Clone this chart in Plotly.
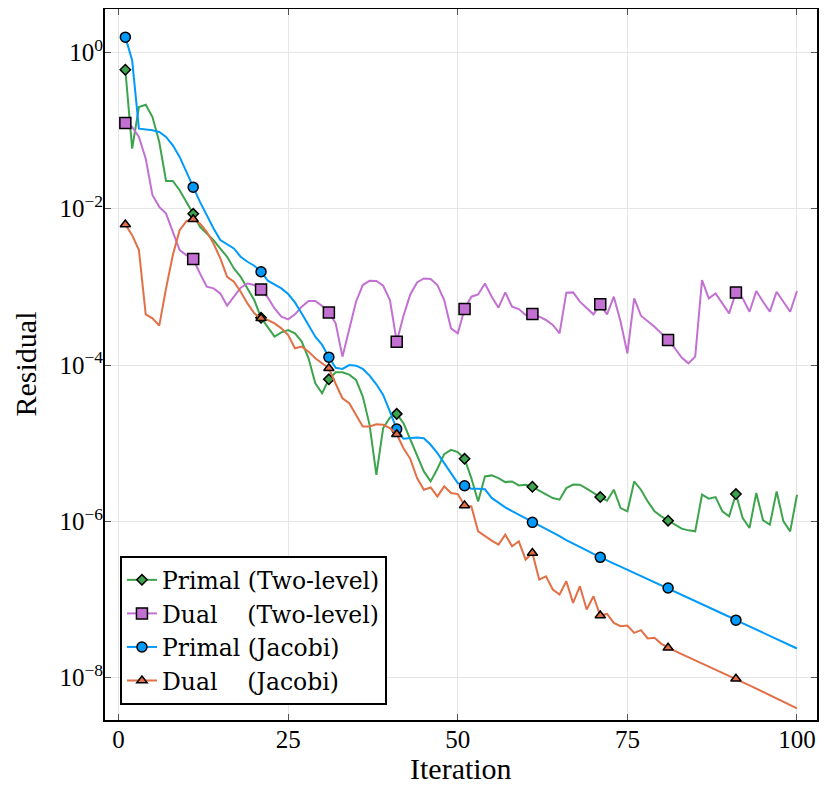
import plotly.graph_objects as go

# Iteration numbers
iterations = list(range(1, 101))

# log10 of the residual per iteration
primal_two_level = [
    -0.223, -1.232, -0.700, -0.670, -0.828, -1.147, -1.645, -1.645, -1.764, -1.913,
    -2.066, -2.232, -2.318, -2.402, -2.510, -2.616, -2.765, -2.871, -3.020, -3.169,
    -3.395, -3.510, -3.637, -3.582, -3.552, -3.595, -3.700, -3.914, -4.234, -4.361,
    -4.183, -4.093, -4.093, -4.123, -4.190, -4.404, -4.765, -5.404, -4.808, -4.672,
    -4.625, -4.745, -4.957, -5.170, -5.361, -5.489, -5.327, -5.140, -5.085, -5.115,
    -5.200, -5.447, -5.745, -5.425, -5.412, -5.447, -5.498, -5.489, -5.540, -5.531,
    -5.557, -5.608, -5.659, -5.702, -5.723, -5.575, -5.530, -5.531, -5.582, -5.638,
    -5.689, -5.736, -5.595, -5.830, -5.872, -5.489, -5.595, -5.745, -5.872, -5.936,
    -5.991, -6.042, -6.093, -6.115, -6.128, -5.659, -5.710, -5.689, -5.872, -5.936,
    -5.651, -5.958, -6.085, -5.638, -5.987, -6.042, -5.617, -6.000, -6.128, -5.659,
]

dual_two_level = [
    -0.904, -0.955, -1.083, -1.360, -1.828, -1.977, -2.063, -2.296, -2.530, -2.594,
    -2.645, -2.829, -2.999, -3.020, -3.084, -3.241, -3.126, -3.011, -2.957, -2.977,
    -3.033, -3.139, -3.276, -3.382, -3.416, -3.352, -3.254, -3.181, -3.181, -3.245,
    -3.327, -3.467, -3.893, -3.552, -3.190, -2.977, -2.922, -2.926, -2.986, -3.169,
    -3.701, -3.369, -3.097, -2.944, -2.893, -2.900, -2.977, -3.169, -3.531, -3.595,
    -3.284, -3.126, -3.097, -2.957, -3.126, -3.267, -3.071, -3.254, -3.284, -3.360,
    -3.348, -3.382, -3.424, -3.488, -3.595, -3.075, -3.071, -3.190, -3.276, -3.352,
    -3.224, -3.352, -3.126, -3.446, -3.850, -3.148, -3.369, -3.437, -3.510, -3.595,
    -3.680, -3.786, -3.905, -3.978, -3.893, -2.913, -3.148, -3.084, -3.212, -3.340,
    -3.071, -3.148, -3.318, -3.054, -3.190, -3.318, -3.063, -3.190, -3.318, -3.054,
]

primal_jacobi = [
    0.194, -0.100, -0.977, -0.985, -0.998, -1.019, -1.083, -1.189, -1.338, -1.530,
    -1.725, -1.913, -2.083, -2.254, -2.402, -2.453, -2.509, -2.616, -2.679, -2.730,
    -2.807, -2.922, -2.969, -3.020, -3.092, -3.199, -3.340, -3.480, -3.637, -3.743,
    -3.900, -4.035, -4.050, -4.000, -4.008, -4.050, -4.135, -4.247, -4.382, -4.595,
    -4.820, -4.944, -4.936, -4.927, -4.936, -5.020, -5.128, -5.255, -5.383, -5.511,
    -5.544, -5.582, -5.582, -5.590, -5.700, -5.766, -5.820, -5.870, -5.915, -5.966,
    -6.013, -6.060, -6.100, -6.150, -6.190, -6.240, -6.280, -6.330, -6.370, -6.415,
    -6.460, -6.500, -6.540, -6.580, -6.620, -6.660, -6.700, -6.740, -6.780, -6.815,
    -6.852, -6.890, -6.935, -6.975, -7.015, -7.060, -7.100, -7.140, -7.180, -7.220,
    -7.264, -7.305, -7.345, -7.385, -7.425, -7.465, -7.505, -7.545, -7.585, -7.626,
]

dual_jacobi = [
    -2.203, -2.339, -2.530, -3.352, -3.403, -3.497, -3.020, -2.594, -2.275, -2.160,
    -2.135, -2.190, -2.296, -2.446, -2.637, -2.871, -2.935, -3.062, -3.212, -3.340,
    -3.403, -3.424, -3.467, -3.531, -3.616, -3.786, -3.765, -3.829, -3.914, -3.978,
    -4.042, -4.240, -4.425, -4.489, -4.637, -4.787, -4.787, -4.757, -4.765, -4.808,
    -4.885, -5.064, -5.200, -5.447, -5.595, -5.566, -5.681, -5.553, -5.638, -5.651,
    -5.796, -5.808, -6.128, -6.192, -6.247, -6.298, -6.170, -6.319, -6.255, -6.489,
    -6.405, -6.745, -6.702, -6.872, -6.936, -6.766, -7.043, -6.830, -7.128, -6.958,
    -7.205, -7.184, -7.299, -7.341, -7.332, -7.426, -7.392, -7.498, -7.490, -7.567,
    -7.618, -7.658, -7.698, -7.737, -7.777, -7.816, -7.856, -7.896, -7.935, -7.975,
    -8.014, -8.056, -8.098, -8.140, -8.182, -8.224, -8.266, -8.308, -8.350, -8.392,
]

NB = "\u00a0"
series = [
    ("Primal (Two-level)", primal_two_level, "#3da44d", "diamond", 8),
    ("Dual" + NB * 4 + "(Two-level)", dual_two_level, "#c271d2", "square", 11),
    ("Primal (Jacobi)", primal_jacobi, "#009afa", "circle", 10),
    ("Dual" + NB * 4 + "(Jacobi)", dual_jacobi, "#e26f46", "triangle-up", 9),
]

FONT = "Liberation Serif"
LEGEND_FONT = "DejaVu Serif"

fig = go.Figure()
for name, logvals, color, symbol, msize in series:
    y = [10 ** v for v in logvals]
    mk = dict(symbol=symbol, size=msize, color=color, line=dict(color="black", width=1.5))
    # full curve
    fig.add_trace(go.Scatter(x=iterations, y=y, mode="lines",
                             line=dict(color=color, width=2),
                             showlegend=False, hoverinfo="skip"))
    # markers every 10 iterations
    fig.add_trace(go.Scatter(x=iterations[::10], y=y[::10], mode="markers",
                             marker=mk, showlegend=False, hoverinfo="skip"))
    # legend entry
    fig.add_trace(go.Scatter(x=[None], y=[None], mode="lines+markers", name=name,
                             line=dict(color=color, width=2), marker=mk))

axis_common = dict(
    showgrid=True, gridcolor="#e6e6e6", gridwidth=1, automargin=False,
    zeroline=False, showline=True, linecolor="black", linewidth=2,
    mirror="ticks", ticks="inside", ticklen=6, tickwidth=1, tickcolor="#555555",
    tickfont=dict(family=FONT, size=25, color="black"),
)

# the page body has an 8px margin, so the figure is 8px smaller than the window
fig.update_layout(
    width=823, height=784,
    margin=dict(l=97, r=14, t=1, b=72),
    plot_bgcolor="white", paper_bgcolor="white",
    font=dict(family=FONT, color="black"),
    xaxis=dict(range=[-2.0, 102.95], tickvals=[0, 25, 50, 75, 100],
               ticklabelstandoff=-4, **axis_common),
    yaxis=dict(type="log", range=[-8.541, 0.554],
               tickvals=[1e-8, 1e-6, 1e-4, 1e-2, 1],
               ticktext=["10<sup>\u22128</sup>", "10<sup>\u22126</sup>", "10<sup>\u22124</sup>",
                         "10<sup>\u22122</sup>", "10<sup>0</sup>"],
               ticklabelstandoff=-5, **axis_common),
    legend=dict(x=0.021, y=0.021, xanchor="left", yanchor="bottom",
                bgcolor="white", bordercolor="black", borderwidth=2,
                font=dict(family=LEGEND_FONT, size=23.5, color="black"),
                itemwidth=30, tracegroupgap=0),
    annotations=[
        dict(text="Iteration", xref="paper", yref="paper", x=0.5, y=0,
             xanchor="center", yanchor="middle", yshift=-48, showarrow=False,
             font=dict(family=FONT, size=30, color="black")),
        dict(text="Residual", xref="paper", yref="paper", x=0, y=0.5,
             xanchor="center", yanchor="middle", xshift=-80, textangle=-90,
             showarrow=False, font=dict(family=FONT, size=30, color="black")),
    ],
)

fig.write_html("out.html")
